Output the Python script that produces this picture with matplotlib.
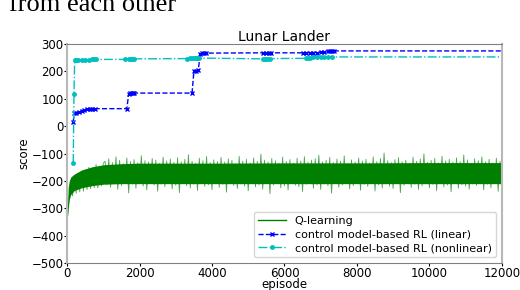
import numpy as np
import matplotlib
matplotlib.use('Agg')
import matplotlib.pyplot as plt

# Q-learning score, one value every 50 episodes
q_step = 50
q_score = [
    -350, -275, -200, -255, -180, -245, -172, -240, -165, -238, -160, -232, -150, -228, -155, -225, -140, -226, -148, -218, -135,
    -128, -214, -119, -223, -133, -209, -112, -231, -125, -217, -137, -206, -116, -244, -129, -212, -122, -227, -134, -210,
    -108, -219, -126, -233, -131, -208, -118, -215, -124, -238, -136, -211, -113, -221, -127, -207, -120, -229, -132, -216,
    -115, -243, -130, -209, -121, -218, -104, -226, -128, -212, -135, -235, -117, -208, -126, -220, -111, -214, -133, -232,
    -123, -207, -129, -224, -114, -213, -131, -241, -119, -209, -125, -217, -137, -228, -110, -211, -127, -219, -121, -236,
    -134, -206, -116, -222, -128, -214, -102, -230, -124, -208, -131, -247, -118, -215, -126, -210, -136, -225, -113, -218,
    -129, -233, -122, -207, -135, -216, -117, -221, -127, -239, -111, -212, -132, -209, -124, -227, -119, -214, -106, -231,
    -130, -211, -125, -218, -114, -245, -133, -208, -120, -223, -128, -215, -109, -210, -136, -229, -123, -217, -131, -206,
    -116, -234, -127, -212, -121, -220, -135, -208, -112, -237, -129, -214, -118, -226, -98, -211, -126, -219, -133, -228,
    -122, -209, -115, -243, -130, -216, -124, -207, -137, -224, -113, -212, -128, -231, -120, -218, -101, -210, -132, -225,
    -125, -213, -118, -236, -134, -208, -110, -222, -127, -215, -121, -240, -131, -209, -116, -227, -129, -214, -105, -219,
    -123, -230, -136, -211, -119, -217, -126, -206, -112, -233, -130, -212, -121, -225, -134, -209, -117, -238, -128, -216,
]
# dense core of the Q-learning band
band_ep = [0, 30, 60, 100, 200, 400, 700, 1000, 1500, 2000, 4000, 6000, 8000, 10000, 12000]
band_low = [-350, -300, -268, -250, -235, -225, -217, -212, -210, -210, -210, -210, -210, -210, -210]
band_high = [-330, -225, -200, -186, -175, -160, -148, -141, -137, -135, -135, -134, -134, -133, -133]

# control model-based RL (linear)
lin_ep = [170, 200, 260, 330, 400, 480, 560, 640, 700, 760, 1650, 1700, 1740, 1780, 1820, 1860,
          3450, 3500, 3560, 3620, 3680, 3720, 3780, 3840, 5400, 5480, 5560, 5640,
          6500, 6600, 6700, 6800, 6900, 7000, 7100, 7200, 7260, 7320, 7380, 12000]
lin_score = [17, 48, 50, 52, 56, 60, 62, 63, 64, 64, 64, 118, 120, 120, 121, 121,
             121, 200, 203, 205, 265, 267, 267, 267, 268, 268, 268, 268,
             268, 268, 269, 269, 269, 270, 271, 273, 275, 275, 275, 275]

# control model-based RL (nonlinear)
nl_ep = [170, 190, 210, 250, 300, 400, 500, 600, 700, 750, 800, 1600, 1700, 1750, 1800, 1850,
         3300, 3400, 3450, 3500, 3550, 3600, 3650, 5400, 5450, 5500, 5550, 5600,
         6600, 6650, 6700, 6800, 6900, 7000, 7100, 7200, 7300, 12000]
nl_score = [-134, 118, 243, 243, 243, 243, 243, 243, 244, 244, 244, 244, 245, 245, 246, 246,
            247, 248, 248, 248, 249, 249, 249, 246, 246, 246, 247, 247,
            248, 249, 250, 251, 252, 252, 252, 252, 253, 253]

fig = plt.figure(figsize=(5.2, 2.9), dpi=100)
ax = fig.add_axes([0.129, 0.093, 0.836, 0.755])

# cropped caption text from the page above the figure
fig.text(0.018, 0.963, 'from each other', fontsize=19, family='Liberation Serif', va='baseline')

q_ep = np.arange(len(q_score)) * q_step
ax.fill_between(band_ep, band_low, band_high, color='green', lw=0)
ax.plot(q_ep, q_score, color='green', lw=0.6, alpha=0.7)
ax.plot([], [], color='green', lw=1, label='Q-learning')
ax.plot(lin_ep, lin_score, 'b--', marker='x', ms=3, mew=1, lw=1,
        markevery=list(range(len(lin_ep) - 1)), label='control model-based RL (linear)')
ax.plot(nl_ep, nl_score, 'c-.', marker='.', ms=5, lw=1,
        markevery=list(range(len(nl_ep) - 1)), label='control model-based RL (nonlinear)')

ax.set_xlim(0, 12000)
ax.set_ylim(-500, 300)
ax.set_xticks([0, 2000, 4000, 6000, 8000, 10000, 12000])
ax.set_yticks(np.arange(-500, 301, 100))
ax.tick_params(labelsize=8.5, length=2, pad=0.5, colors='black')
ax.set_title('Lunar Lander', fontsize=10, pad=2)
ax.set_xlabel('episode', fontsize=8.5, labelpad=-1)
ax.set_ylabel('score', fontsize=8.5, labelpad=1)

for s in ['top', 'bottom']:
    ax.spines[s].set_color('0.5')
for s in ['left', 'right']:
    ax.spines[s].set_color('0.72')
    ax.spines[s].set_linewidth(1.5)

ax.legend(loc='lower right', fontsize=8, handlelength=2.5, borderpad=0.4, labelspacing=0.3)

plt.savefig('out.png', dpi=100)
